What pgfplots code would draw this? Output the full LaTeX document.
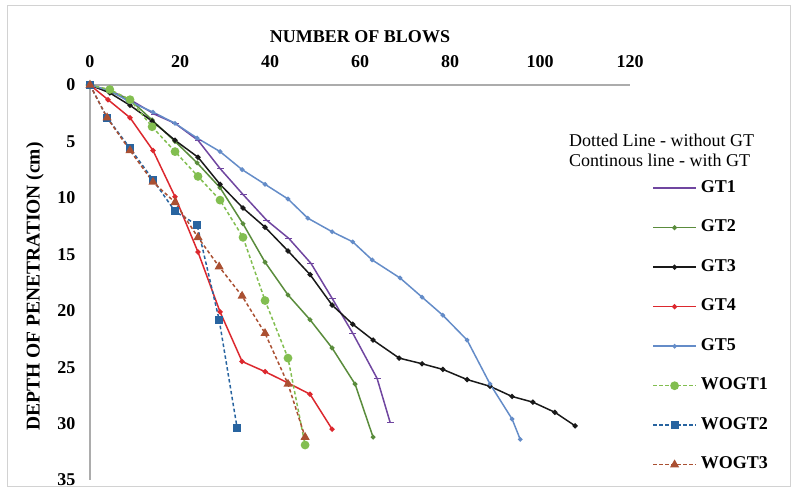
\documentclass[border=0pt]{standalone}
\usepackage{pgfplots}
\pgfplotsset{compat=1.18}
\usepackage{fontspec}
\setmainfont{Liberation Serif}
\definecolor{cGTa}{RGB}{112,70,160}
\definecolor{cGTb}{RGB}{90,140,60}
\definecolor{cGTc}{RGB}{25,25,25}
\definecolor{cGTd}{RGB}{220,40,46}
\definecolor{cGTe}{RGB}{100,140,200}
\definecolor{cWa}{RGB}{130,190,80}
\definecolor{cWb}{RGB}{40,100,160}
\definecolor{cWc}{RGB}{170,80,50}
\begin{document}
\begin{tikzpicture}
\path[use as bounding box] (-90bp,-15bp) rectangle (701bp,480bp);
\draw[gray!35, line width=0.8bp] (-83bp,-6bp) rectangle (700bp,475bp);
\begin{axis}[
  scale only axis, width=540bp, height=395bp,
  xmin=0, xmax=120, ymin=0, ymax=35, y dir=reverse,
  axis x line*=top, axis y line*=left,
  axis line style={draw=gray!65, line width=1.6bp},
  xtick={0,20,...,120}, ytick={0,5,...,35},
  tick style={draw=none},
  /pgf/number format/assume math mode=true,
  ticklabel style={font=\bfseries\fontsize{18bp}{18bp}\selectfont},
  xticklabel style={yshift=14bp},
  yticklabel style={xshift=-11bp},
  xlabel={NUMBER OF BLOWS}, ylabel={DEPTH OF PENETRATION (cm)},
  xlabel style={font=\bfseries\fontsize{18bp}{18bp}\selectfont, at={(axis description cs:0.5,1)}, anchor=center, yshift=48bp},
  ylabel style={font=\bfseries\fontsize{19.5bp}{19.5bp}\selectfont, at={(axis description cs:0,0.49)}, anchor=center, yshift=55bp},
  legend cell align=left,
  legend style={draw=none, fill=none, inner sep=0pt, at={(axis description cs:1.041,0.762)}, anchor=north west,
    font=\bfseries\fontsize{18bp}{18bp}\selectfont, row sep=21.5bp,
    nodes={inner sep=0pt, text height=13bp, text depth=5bp},
    /tikz/every odd column/.append style={column sep=4bp}},
  legend image code/.code={\draw[mark repeat=2,mark phase=2] plot coordinates {(0bp,0bp) (21.5bp,0bp) (43bp,0bp)};},
  every axis plot/.append style={line width=1.5bp},
]
\addplot[cGTa, mark=-, mark size=3.5bp, mark options={solid, line width=1.2bp}] coordinates {
(0,0) (4.4,0.5) (8.9,1.3) (14.4,2.6) (18.9,3.4) (24,4.9) (28.9,7.4) (34,9.7) (39.3,12.0) (44.2,13.6) (49.1,15.8) (53.8,18.9) (58.4,22.0) (63.8,26.0) (66.7,29.9)};
\addlegendentry{GT1}
\addplot[cGTb, mark=*, mark size=1.6bp] coordinates {
(0,0) (4.4,0.6) (8.9,1.3) (13.8,3.1) (18.9,5.0) (23.8,6.9) (28.9,9.1) (34,12.3) (38.9,15.7) (44,18.6) (48.9,20.8) (53.8,23.3) (58.9,26.5) (62.9,31.2)};
\addlegendentry{GT2}
\addplot[cGTc, mark=*, mark size=1.8bp] coordinates {
(0,0) (4.4,0.7) (8.9,1.8) (13.8,3.2) (18.9,4.9) (24,6.4) (28.9,8.8) (34,10.9) (38.9,12.6) (44,14.7) (48.9,16.8) (53.8,19.5) (58.4,21.2) (62.9,22.6) (68.7,24.2) (73.8,24.7) (78.4,25.2) (83.8,26.1) (88.9,26.7) (93.8,27.6) (98.4,28.1) (103.3,29.0) (107.8,30.2)};
\addlegendentry{GT3}
\addplot[cGTd, mark=*, mark size=1.8bp] coordinates {
(0,0) (4,1.3) (8.9,2.9) (14,5.8) (18.9,9.9) (24,14.8) (28.9,20.1) (33.8,24.5) (38.9,25.4) (44,26.4) (48.9,27.4) (53.8,30.5)};
\addlegendentry{GT4}
\addplot[cGTe, mark=*, mark size=1.5bp] coordinates {
(0,0) (4.4,0.5) (8.4,1.4) (14,2.4) (18.9,3.4) (23.8,4.7) (28.9,5.9) (33.8,7.5) (38.9,8.8) (44,10.1) (48.4,11.8) (53.8,13.0) (58.4,13.9) (62.7,15.5) (68.9,17.1) (73.8,18.8) (78.4,20.4) (83.8,22.6) (88.9,26.5) (93.8,29.6) (95.6,31.4)};
\addlegendentry{GT5}
\addplot[cWa, dash pattern=on 3.5bp off 2.5bp, mark=*, mark size=3.6bp, mark options={solid}] coordinates {
(0,0) (4.4,0.4) (8.9,1.3) (13.8,3.7) (18.9,5.9) (24,8.1) (28.9,10.2) (34,13.5) (38.9,19.1) (44,24.2) (47.8,31.9)};
\addlegendentry{WOGT1}
\addplot[cWb, dash pattern=on 3.5bp off 2.5bp, mark=square*, mark size=3.2bp, mark options={solid}] coordinates {
(0,0) (3.8,2.9) (8.9,5.6) (14,8.4) (18.9,11.2) (23.8,12.4) (28.7,20.8) (32.7,30.4)};
\addlegendentry{WOGT2}
\addplot[cWc, dash pattern=on 3.5bp off 2.5bp, mark=triangle*, mark size=3.8bp, mark options={solid}] coordinates {
(0,0) (3.8,2.9) (8.9,5.8) (14,8.6) (18.9,10.4) (24,13.5) (28.7,16.1) (33.8,18.7) (38.9,22.0) (44,26.5) (47.8,31.2)};
\addlegendentry{WOGT3}
\end{axis}
\node[anchor=base west, inner sep=0pt, font=\fontsize{18bp}{18bp}\selectfont] at (479bp,333bp) {Dotted Line - without GT};
\node[anchor=base west, inner sep=0pt, font=\fontsize{18bp}{18bp}\selectfont] at (479bp,313bp) {Continous line - with GT};
\end{tikzpicture}
\end{document}
